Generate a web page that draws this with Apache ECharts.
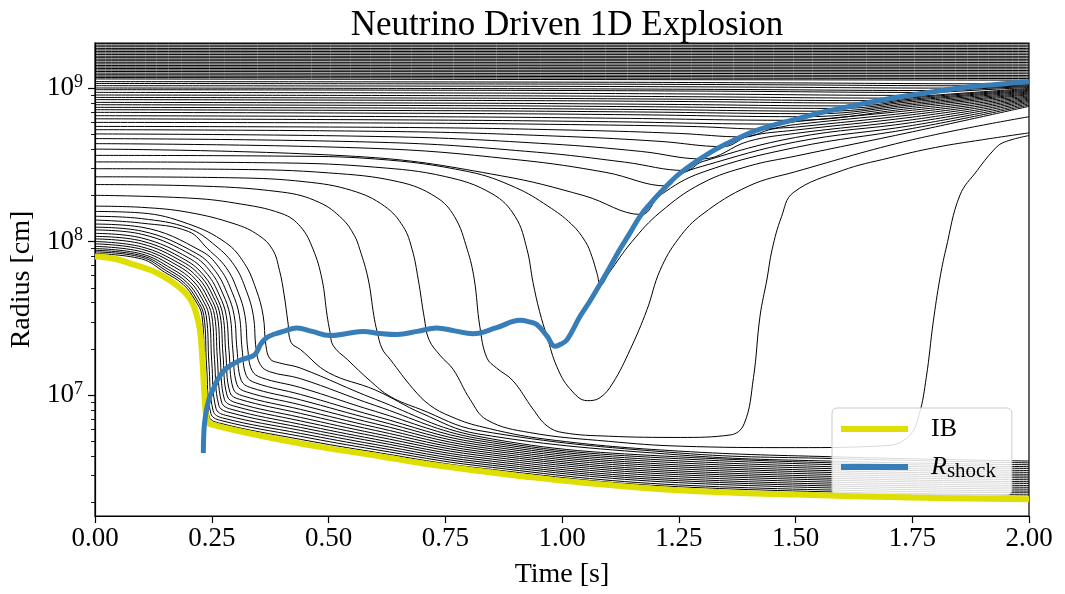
<!DOCTYPE html>
<html><head><meta charset="utf-8">
<script src="https://cdn.jsdelivr.net/npm/echarts@6/dist/echarts.min.js"></script>
<style>html,body{margin:0;padding:0;background:#fff}#c{width:1065px;height:594px}</style>
</head><body><div id="c"></div>
<script>
// ---------------- data ----------------
const timeLimits = [0, 2];
const radiusLimits = [1.632e6, 1.963e9];
const radiusMajorTicks = [1e7, 1e8, 1e9];
const radiusMinorTicks = [2e6,3e6,4e6,5e6,6e6,7e6,8e6,9e6,2e7,3e7,4e7,5e7,6e7,7e7,8e7,9e7,2e8,3e8,4e8,5e8,6e8,7e8,8e8,9e8];

const ibTrack = [[0,8.0e7],[0.04,7.75e7],[0.082,7.1e7],[0.12,6.5e7],[0.139,6.1e7],[0.16,5.6e7],[0.182,5.0e7],[0.2,4.4e7],[0.21,3.9e7],[0.218,3.3e7],[0.225,2.6e7],[0.23,1.7e7],[0.234,1.05e7],[0.238,7.3e6],[0.243,6.6e6],[0.253,6.4e6],[0.3,5.9e6],[0.4,5.1e6],[0.5,4.5e6],[0.61,4.0e6],[0.7,3.6e6],[0.824,3.2e6],[0.9,3.0e6],[1.04,2.7e6],[1.25,2.4e6],[1.5,2.25e6],[1.75,2.15e6],[2.0,2.1e6]];

const shockTrack = [[0.232,4.2e6],[0.2335,6.0e6],[0.237,7.5e6],[0.241,8.6e6],[0.246,9.8e6],[0.253,1.09e7],[0.265,1.3e7],[0.282,1.5e7],[0.31,1.68e7],[0.338,1.8e7],[0.346,1.9e7],[0.355,2.15e7],[0.368,2.37e7],[0.385,2.5e7],[0.403,2.6e7],[0.432,2.74e7],[0.465,2.6e7],[0.503,2.44e7],[0.54,2.52e7],[0.574,2.6e7],[0.61,2.52e7],[0.647,2.48e7],[0.69,2.6e7],[0.732,2.74e7],[0.77,2.62e7],[0.809,2.51e7],[0.86,2.75e7],[0.91,3.07e7],[0.93,3.0e7],[0.946,2.88e7],[0.968,2.42e7],[0.985,2.08e7],[0.998,2.15e7],[1.011,2.3e7],[1.039,3.27e7],[1.06,4.1e7],[1.081,5.25e7],[1.1,6.6e7],[1.124,8.9e7],[1.145,1.13e8],[1.167,1.46e8],[1.19,1.78e8],[1.21,2.08e8],[1.253,2.79e8],[1.317,3.8e8],[1.37,4.6e8],[1.424,5.4e8],[1.5,6.25e8],[1.567,7.05e8],[1.64,7.85e8],[1.709,8.6e8],[1.78,9.3e8],[1.852,1.0e9],[1.93,1.055e9],[2.0,1.1e9]];

// outermost shells that barely move
const outerShellStart = [1.145e9,1.17e9,1.195e9,1.22e9,1.25e9,1.28e9,1.31e9,1.34e9,1.37e9,1.40e9,1.435e9,1.47e9,1.505e9,1.54e9,1.575e9,1.61e9,1.65e9,1.69e9,1.73e9,1.77e9,1.81e9,1.855e9,1.90e9,1.945e9];
const outerShellEnd   = [1.125e9,1.152e9,1.18e9,1.207e9,1.238e9,1.27e9,1.30e9,1.332e9,1.363e9,1.394e9,1.43e9,1.466e9,1.502e9,1.537e9,1.573e9,1.608e9,1.648e9,1.688e9,1.729e9,1.769e9,1.809e9,1.854e9,1.899e9,1.944e9];

// shells accreted onto the proto-neutron star
const accretedShells = [
 [[0,8.35e7],[0.1,7.70e7],[0.149,6.32e7],[0.189,5.25e7],[0.214,4.17e7],[0.229,3.3e7],[0.235,1.5e7],[0.244,7.3e6],[0.264,6.6e6],[0.44,5.15e6],[0.6,4.25e6],[0.82,3.36e6],[1.25,2.53e6],[2.0,2.24e6]],
 [[0,8.57e7],[0.1,7.91e7],[0.153,6.44e7],[0.193,5.32e7],[0.218,4.19e7],[0.233,3.3e7],[0.239,1.55e7],[0.248,7.6e6],[0.268,6.85e6],[0.44,5.39e6],[0.6,4.42e6],[0.82,3.47e6],[1.25,2.60e6],[2.0,2.31e6]],
 [[0,8.77e7],[0.1,8.09e7],[0.158,6.55e7],[0.198,5.38e7],[0.223,4.22e7],[0.238,3.3e7],[0.244,1.6e7],[0.253,7.9e6],[0.273,7.1e6],[0.44,5.63e6],[0.6,4.59e6],[0.82,3.58e6],[1.25,2.69e6],[2.0,2.37e6]],
 [[0,9.0e7],[0.1,8.30e7],[0.164,6.66e7],[0.204,5.45e7],[0.229,4.25e7],[0.244,3.3e7],[0.25,1.65e7],[0.259,8.2e6],[0.279,7.4e6],[0.44,5.89e6],[0.6,4.77e6],[0.82,3.69e6],[1.25,2.77e6],[2.0,2.44e6]],
 [[0,9.3e7],[0.1,8.58e7],[0.17,6.82e7],[0.21,5.54e7],[0.235,4.28e7],[0.25,3.3e7],[0.256,1.7e7],[0.265,8.6e6],[0.285,7.75e6],[0.44,6.16e6],[0.6,4.97e6],[0.82,3.81e6],[1.25,2.85e6],[2.0,2.51e6]],
 [[0,9.66e7],[0.1,8.91e7],[0.176,7.0e7],[0.216,5.65e7],[0.241,4.32e7],[0.256,3.3e7],[0.262,1.75e7],[0.271,9.0e6],[0.291,8.1e6],[0.44,6.45e6],[0.6,5.16e6],[0.82,3.93e6],[1.25,2.94e6],[2.0,2.58e6]],
 [[0,1.0e8],[0.1,9.23e7],[0.182,7.17e7],[0.222,5.75e7],[0.247,4.36e7],[0.262,3.3e7],[0.268,1.8e7],[0.277,9.4e6],[0.297,8.5e6],[0.44,6.79e6],[0.6,5.39e6],[0.82,4.06e6],[1.25,3.03e6],[2.0,2.66e6]],
 [[0,1.04e8],[0.1,9.66e7],[0.188,7.37e7],[0.228,5.86e7],[0.253,4.40e7],[0.268,3.3e7],[0.274,1.85e7],[0.283,9.9e6],[0.303,8.9e6],[0.44,7.16e6],[0.6,5.62e6],[0.82,4.19e6],[1.25,3.12e6],[2.0,2.73e6]],
 [[0,1.08e8],[0.1,1.008e8],[0.194,7.57e7],[0.234,5.97e7],[0.259,4.44e7],[0.274,3.3e7],[0.28,1.9e7],[0.289,1.04e7],[0.309,9.4e6],[0.44,7.60e6],[0.6,5.89e6],[0.82,4.32e6],[1.25,3.21e6],[2.0,2.81e6]],
 [[0,1.13e8],[0.1,1.055e8],[0.201,7.81e7],[0.241,6.11e7],[0.266,4.49e7],[0.281,3.3e7],[0.287,1.95e7],[0.296,1.1e7],[0.316,9.9e6],[0.44,8.07e6],[0.6,6.18e6],[0.82,4.46e6],[1.25,3.31e6],[2.0,2.89e6]],
 [[0,1.19e8],[0.1,1.116e8],[0.209,8.10e7],[0.249,6.27e7],[0.274,4.55e7],[0.289,3.3e7],[0.295,2.0e7],[0.304,1.17e7],[0.324,1.05e7],[0.44,8.64e6],[0.6,6.51e6],[0.82,4.60e6],[1.25,3.41e6],[2.0,2.97e6]],
 [[0,1.24e8],[0.1,1.17e8],[0.218,8.34e7],[0.258,6.40e7],[0.283,4.60e7],[0.298,3.3e7],[0.304,2.0e7],[0.313,1.25e7],[0.333,1.12e7],[0.44,9.31e6],[0.6,6.88e6],[0.82,4.75e6],[1.25,3.51e6],[2.0,3.05e6]],
 [[0,1.30e8],[0.1,1.24e8],[0.229,8.62e7],[0.269,6.55e7],[0.294,4.65e7],[0.309,3.3e7],[0.315,2.0e7],[0.324,1.34e7],[0.344,1.2e7],[0.44,1.01e7],[0.6,7.30e6],[0.82,4.90e6],[1.25,3.62e6],[2.0,3.14e6]],
 [[0,1.38e8],[0.1,1.318e8],[0.2,1.163e8],[0.241,8.99e7],[0.281,6.75e7],[0.306,4.72e7],[0.321,3.3e7],[0.327,2.0e7],[0.336,1.45e7],[0.356,1.3e7],[0.44,1.12e7],[0.6,7.84e6],[0.82,5.06e6],[1.25,3.73e6],[2.0,3.23e6]],
 [[0,1.46e8],[0.1,1.41e8],[0.2,1.222e8],[0.259,9.35e7],[0.299,6.95e7],[0.324,4.79e7],[0.339,3.3e7],[0.345,2.0e7],[0.354,1.58e7],[0.374,1.42e7],[0.44,1.28e7],[0.6,8.56e6],[0.82,5.22e6],[1.25,3.85e6],[2.0,3.33e6]],
 [[0,1.57e8],[0.1,1.535e8],[0.2,1.302e8],[0.28,9.83e7],[0.32,7.20e7],[0.345,4.88e7],[0.36,3.3e7],[0.366,2.1e7],[0.375,1.72e7],[0.395,1.62e7],[0.44,1.50e7],[0.6,9.4e6],[0.82,5.39e6],[1.25,3.96e6],[2.0,3.42e6]],
 [[0,1.7e8],[0.1,1.67e8],[0.2,1.55e8],[0.3,1.3e8],[0.35,1.1e8],[0.38,8.9e7],[0.395,6.5e7],[0.405,4.5e7],[0.413,3.0e7],[0.42,2.2e7],[0.44,1.98e7],[0.5,1.4e7],[0.6,1.08e7],[0.7,7.6e6],[0.82,5.59e6],[1.25,4.08e6],[1.6,3.7e6],[2.0,3.52e6]],
 [[0,2.0e8],[0.2,1.92e8],[0.3,1.78e8],[0.4,1.52e8],[0.44,1.25e8],[0.467,8.9e7],[0.486,5.7e7],[0.497,3.3e7],[0.503,2.6e7],[0.51,2.1e7],[0.54,1.71e7],[0.589,1.24e7],[0.632,9.8e6],[0.696,8.1e6],[0.82,5.89e6],[1.25,4.2e6],[1.6,3.85e6],[2.0,3.62e6]],
 [[0,2.35e8],[0.2,2.31e8],[0.4,2.1e8],[0.48,1.8e8],[0.53,1.4e8],[0.555,1.1e8],[0.567,8.9e7],[0.585,5.7e7],[0.597,3.3e7],[0.604,2.6e7],[0.615,2.0e7],[0.632,1.71e7],[0.681,1.1e7],[0.717,8.6e6],[0.76,7.3e6],[0.824,6.26e6],[0.968,5.15e6],[1.25,4.32e6],[1.6,3.95e6],[2.0,3.72e6]]
];

// shells that settle first and are later ejected
const ejectedShells = [
 [[0,2.64e8],[0.3,2.6e8],[0.45,2.45e8],[0.55,2.15e8],[0.62,1.7e8],[0.66,1.25e8],[0.679,8.9e7],[0.692,5.7e7],[0.705,3.2e7],[0.715,2.3e7],[0.74,1.8e7],[0.767,1.47e7],[0.803,9.4e6],[0.839,6.9e6],[0.931,5.7e6],[1.1,5.0e6],[1.253,4.65e6],[1.5,4.55e6],[1.7,4.7e6],[1.745,5.5e6],[1.765,7.5e6],[1.78,1.3e7],[1.795,3.0e7],[1.809,5.7e7],[1.822,8.9e7],[1.852,2.0e8],[1.889,2.9e8],[1.923,3.9e8],[1.944,4.4e8],[2.0,4.9e8]],
 [[0,2.98e8],[0.3,2.95e8],[0.5,2.8e8],[0.65,2.45e8],[0.73,1.95e8],[0.77,1.45e8],[0.797,8.9e7],[0.812,5.7e7],[0.824,2.8e7],[0.839,1.75e7],[0.86,1.5e7],[0.895,1.24e7],[0.938,8.1e6],[0.968,6.3e6],[1.002,5.7e6],[1.1,5.4e6],[1.253,5.3e6],[1.36,5.5e6],[1.39,6.5e6],[1.41,1.3e7],[1.424,3.26e7],[1.439,5.7e7],[1.45,8.9e7],[1.47,1.45e8],[1.495,2.08e8],[1.6,2.9e8],[1.7,3.5e8],[1.8,4.1e8],[1.9,4.6e8],[2.0,5.1e8]],
 [[0,3.3e8],[0.4,3.25e8],[0.6,3.05e8],[0.75,2.65e8],[0.85,2.05e8],[0.9,1.45e8],[0.925,8.9e7],[0.938,5.4e7],[0.952,3.5e7],[0.968,2.4e7],[0.989,1.53e7],[1.017,1.1e7],[1.054,9.2e6],[1.081,9.6e6],[1.109,1.2e7],[1.146,1.98e7],[1.182,3.6e7],[1.21,6.5e7],[1.25,1.05e8],[1.3,1.5e8],[1.4,2.3e8],[1.5,2.85e8],[1.75,4.6e8],[2.0,6.5e8]],
 [[0,3.64e8],[0.4,3.6e8],[0.6,3.45e8],[0.8,2.85e8],[0.9,2.25e8],[0.97,1.7e8],[1.02,1.3e8],[1.05,1.0e8],[1.064,8.0e7],[1.075,6.2e7],[1.083,5.2e7],[1.1,6.2e7],[1.15,1.0e8],[1.21,1.55e8],[1.3,2.4e8],[1.4,3.1e8],[1.5,3.6e8],[1.75,5.18e8],[2.0,7.59e8]]
];

// shells overtaken by the expanding shock
const sweptShells = [
 [[0,4.0e8],[0.58,3.55e8],[0.87,2.68e8],[1.047,1.99e8],[1.17,1.5e8],[1.21,2.0e8],[1.3,2.82e8],[1.5,4.10e8],[1.75,5.45e8],[2.0,7.74e8]],
 [[0,4.34e8],[0.608,4.03e8],[0.912,3.39e8],[1.094,2.82e8],[1.225,2.3e8],[1.25,2.7e8],[1.3,3.09e8],[1.5,4.45e8],[1.75,5.70e8],[2.0,7.89e8]],
 [[0,4.68e8],[0.63,4.41e8],[0.945,3.82e8],[1.134,3.29e8],[1.265,2.9e8],[1.3,3.31e8],[1.5,4.76e8],[1.75,5.96e8],[2.0,8.04e8]],
 [[0,5.02e8],[0.65,4.80e8],[0.975,4.32e8],[1.17,3.86e8],[1.3,3.45e8],[1.4,4.5e8],[1.5,5.06e8],[1.75,6.21e8],[2.0,8.18e8]],
 [[0,5.35e8],[0.67,5.19e8],[1.01,4.83e8],[1.21,4.49e8],[1.345,4.15e8],[1.4,4.85e8],[1.5,5.32e8],[1.75,6.46e8],[2.0,8.32e8]],
 [[0,5.62e8],[0.7,5.52e8],[1.04,5.30e8],[1.25,5.06e8],[1.39,4.8e8],[1.45,5.4e8],[1.5,5.56e8],[1.75,6.70e8],[2.0,8.45e8]],
 [[0,5.97e8],[0.7,5.90e8],[1.07,5.75e8],[1.29,5.60e8],[1.43,5.4e8],[1.5,5.78e8],[1.75,6.93e8],[2.0,8.59e8]],
 [[0,6.3e8],[0.73,6.18e8],[1.1,6.03e8],[1.463,5.82e8],[1.5,6.03e8],[1.75,7.16e8],[2.0,8.73e8]],
 [[0,6.6e8],[0.75,6.49e8],[1.12,6.35e8],[1.492,6.16e8],[1.75,7.38e8],[2.0,8.87e8]],
 [[0,6.94e8],[0.76,6.83e8],[1.14,6.70e8],[1.522,6.50e8],[1.75,7.59e8],[2.0,9.02e8]],
 [[0,7.22e8],[0.77,7.11e8],[1.16,6.98e8],[1.547,6.80e8],[1.75,7.78e8],[2.0,9.14e8]],
 [[0,7.48e8],[0.78,7.38e8],[1.18,7.24e8],[1.569,7.06e8],[1.75,7.96e8],[2.0,9.27e8]],
 [[0,7.78e8],[0.8,7.67e8],[1.2,7.54e8],[1.597,7.36e8],[1.75,8.15e8],[2.0,9.40e8]],
 [[0,8.06e8],[0.81,7.96e8],[1.22,7.82e8],[1.622,7.64e8],[1.75,8.32e8],[2.0,9.53e8]],
 [[0,8.4e8],[0.83,8.29e8],[1.24,8.17e8],[1.653,7.98e8],[1.75,8.47e8],[2.0,9.66e8]],
 [[0,8.68e8],[0.84,8.58e8],[1.26,8.45e8],[1.68,8.27e8],[1.75,8.63e8],[2.0,9.79e8]],
 [[0,9.0e8],[0.85,8.90e8],[1.28,8.77e8],[1.709,8.59e8],[1.75,8.77e8],[2.0,9.93e8]],
 [[0,9.36e8],[0.87,9.26e8],[1.31,9.13e8],[1.747,8.95e8],[1.8,9.33e8],[2.0,1.007e9]],
 [[0,9.75e8],[0.89,9.65e8],[1.34,9.53e8],[1.787,9.35e8],[1.83,9.66e8],[2.0,1.021e9]],
 [[0,1.0e9],[0.9,9.90e8],[1.36,9.78e8],[1.814,9.62e8],[1.86,9.89e8],[2.0,1.035e9]],
 [[0,1.035e9],[0.92,1.026e9],[1.39,1.014e9],[1.85,9.98e8],[1.9,1.016e9],[2.0,1.05e9]],
 [[0,1.07e9],[0.95,1.061e9],[1.43,1.05e9],[1.9,1.033e9],[1.95,1.052e9],[2.0,1.064e9]],
 [[0,1.10e9],[0.97,1.092e9],[1.46,1.08e9],[1.946,1.064e9],[2.0,1.079e9]]
];

// ---------------- chart ----------------
const SERIF = "'Liberation Serif','DejaVu Serif',serif";
const chart = echarts.init(document.getElementById('c'), null, {renderer:'canvas'});

function shell(data) {
  return {type:'line', data, showSymbol:false, symbol:'none', smooth:0.4,
    lineStyle:{color:'#000', width:1}, silent:true, z:2, legendHoverLink:false};
}
const series = [];
outerShellStart.forEach((r0, i) => series.push(shell([[timeLimits[0], r0],[timeLimits[1], outerShellEnd[i]]])));
accretedShells.forEach(d => series.push(shell(d)));
ejectedShells.forEach(d => series.push(shell(d)));
sweptShells.forEach(d => series.push(shell(d)));
series.push({name:'IB', type:'line', data:ibTrack, showSymbol:false, symbol:'none', smooth:0.4,
  color:'#dede00', lineStyle:{color:'#dede00', width:6}, itemStyle:{color:'#dede00'}, z:5, silent:true});
series.push({name:'Rshock', type:'line', data:shockTrack, showSymbol:false, symbol:'none', smooth:0.4,
  color:'#377eb8', lineStyle:{color:'#377eb8', width:5}, itemStyle:{color:'#377eb8'}, z:6, silent:true});

const option = {
  animation:false,
  backgroundColor:'#fff',
  title:{text:'Neutrino Driven 1D Explosion', left:562, textAlign:'center', top:3,
    textStyle:{fontFamily:SERIF, fontSize:35, fontWeight:'normal', color:'#000'}},
  grid:{left:95, right:36, top:43, bottom:77, show:true, borderColor:'#000', borderWidth:1.2, backgroundColor:'transparent'},
  legend:{
    data:[{name:'IB', icon:'rect'},{name:'Rshock', icon:'rect'}],
    orient:'vertical', left:832, top:408, itemWidth:67, itemHeight:6, itemGap:12,
    padding:[8,16,13,9], backgroundColor:'rgba(255,255,255,0.85)', borderColor:'#cccccc', borderWidth:1, borderRadius:5,
    selectedMode:false,
    formatter: n => n === 'IB' ? '{g| }{n|IB}' : '{g| }{r|R}{s|shock}',
    textStyle:{color:'#000', fontFamily:SERIF, rich:{
      g:{width:18, fontSize:10},
      n:{fontSize:26, fontFamily:SERIF, lineHeight:30},
      r:{fontSize:26, fontFamily:SERIF, fontStyle:'italic', lineHeight:30},
      s:{fontSize:21, fontFamily:SERIF, lineHeight:20, verticalAlign:'bottom'}
    }}
  },
  xAxis:{type:'value', min:timeLimits[0], max:timeLimits[1], interval:0.25,
    axisLine:{show:true, lineStyle:{color:'#000', width:1.2}},
    axisTick:{show:true, inside:false, length:7, lineStyle:{color:'#000', width:1.2}},
    axisLabel:{formatter: v => v.toFixed(2), fontFamily:SERIF, fontSize:27, color:'#000', margin:9},
    splitLine:{show:false},
    name:'Time [s]', nameLocation:'middle', nameGap:45,
    nameTextStyle:{fontFamily:SERIF, fontSize:28, color:'#000'}},
  yAxis:[
    {type:'log', logBase:10, min:radiusLimits[0], max:radiusLimits[1],
     axisLine:{show:true, lineStyle:{color:'#000', width:1.2}},
     axisTick:{show:true, inside:false, length:7, customValues:radiusMajorTicks, lineStyle:{color:'#000', width:1.2}},
     axisLabel:{customValues:radiusMajorTicks, margin:12,
       formatter: v => '{b|10}{e|' + Math.round(Math.log10(v)) + '}',
       rich:{b:{fontFamily:SERIF, fontSize:27, color:'#000', lineHeight:30},
             e:{fontFamily:SERIF, fontSize:18, color:'#000', lineHeight:18, verticalAlign:'top'}}},
     splitLine:{show:false}, minorTick:{show:false},
     name:'Radius [cm]', nameLocation:'middle', nameGap:52, nameRotate:90,
     nameTextStyle:{fontFamily:SERIF, fontSize:28, color:'#000'}},
    {type:'log', logBase:10, min:radiusLimits[0], max:radiusLimits[1], position:'left',
     axisLine:{show:false},
     axisTick:{show:true, inside:false, length:4, customValues:radiusMinorTicks, lineStyle:{color:'#000', width:0.9}},
     axisLabel:{show:false}, splitLine:{show:false}}
  ],
  series
};
chart.setOption(option);
</script>
</body></html>
